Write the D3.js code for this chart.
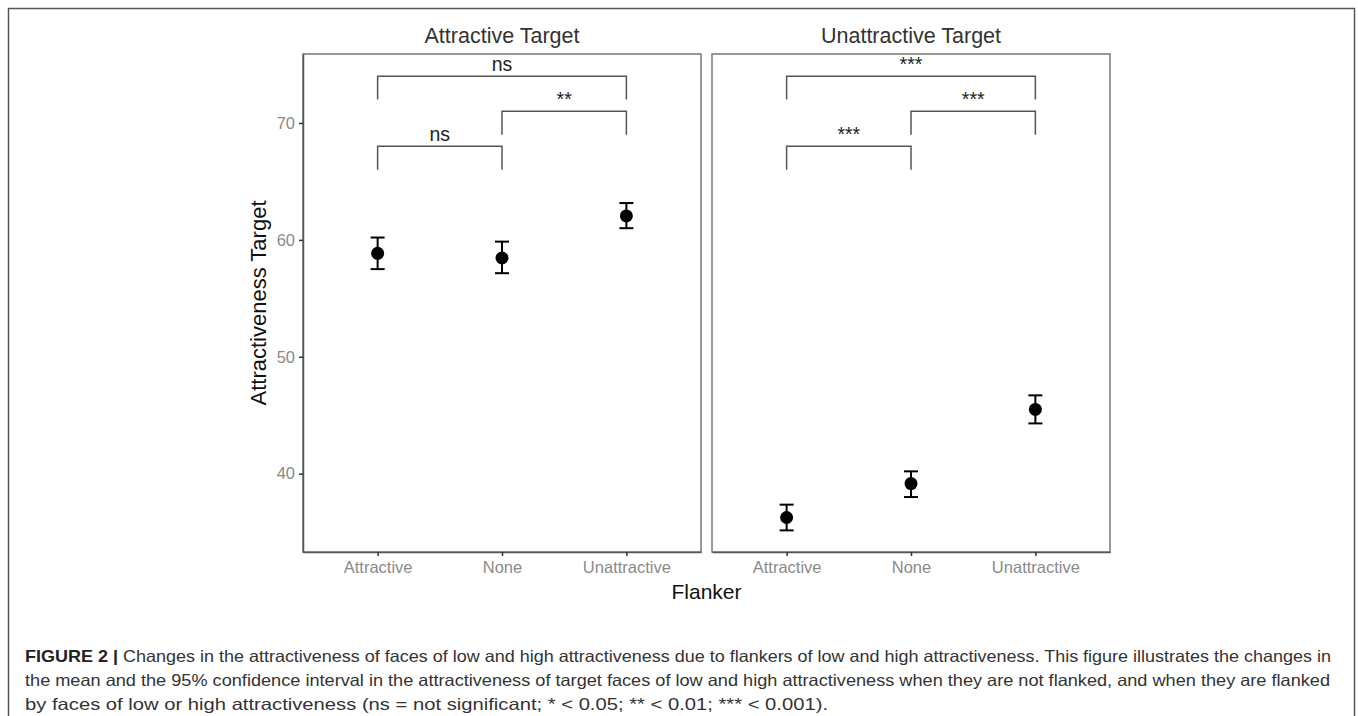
<!DOCTYPE html>
<html>
<head>
<meta charset="utf-8">
<script src="https://cdn.jsdelivr.net/npm/d3@7"></script>
<style>
  body { margin: 0; background: #fff; }
  svg { display: block; font-family: "Liberation Sans", Arial, sans-serif; }
</style>
</head>
<body>
<svg width="1358" height="716"></svg>
<script>
const flankers = ["Attractive", "None", "Unattractive"];
const panels = ["Attractive Target", "Unattractive Target"];

// mean and 95% CI per panel, in flanker order
const means = [
  [58.85, 58.45, 62.05],
  [36.25, 39.15, 45.5],
];
const lower = [
  [57.5, 57.15, 61.0],
  [35.15, 38.0, 44.3],
];
const upper = [
  [60.2, 59.85, 63.15],
  [37.35, 40.2, 46.7],
];

// significance brackets: [from, to, height]
const brackets = [
  ["Attractive", "None", 68],
  ["None", "Unattractive", 71],
  ["Attractive", "Unattractive", 74],
];
const bracketLabels = [
  ["ns", "**", "ns"],
  ["***", "***", "***"],
];

const yTicks = [40, 50, 60, 70];
const yDomain = [33.3, 75.9];

const captionLines = [
  "Changes in the attractiveness of faces of low and high attractiveness due to flankers of low and high attractiveness. This figure illustrates the changes in",
  "the mean and the 95% confidence interval in the attractiveness of target faces of low and high attractiveness when they are not flanked, and when they are flanked",
  "by faces of low or high attractiveness (ns = not significant; * < 0.05; ** < 0.01; *** < 0.001).",
];

const svg = d3.select("svg");

// outer figure frame (open at the bottom)
svg.append("path")
  .attr("d", "M8.5,716 V8.5 H1354.5 V716")
  .attr("fill", "none")
  .attr("stroke", "#555")
  .attr("stroke-width", 1.5);

const panelLeft = [303, 712];
const panelWidth = 398;
const plotTop = 54;
const plotBottom = 552;

const yScale = d3.scaleLinear().domain(yDomain).range([plotBottom, plotTop]);

panels.forEach((title, p) => {
  const x0 = panelLeft[p];
  const xScale = d3.scalePoint()
    .domain(flankers)
    .range([x0, x0 + panelWidth])
    .padding(0.6);

  const g = svg.append("g");

  // panel border
  g.append("rect")
    .attr("x", x0)
    .attr("y", plotTop)
    .attr("width", panelWidth)
    .attr("height", plotBottom - plotTop)
    .attr("fill", "none")
    .attr("stroke", "#777")
    .attr("stroke-width", 1.5);

  // title
  g.append("text")
    .attr("x", x0 + panelWidth / 2)
    .attr("y", 43)
    .attr("text-anchor", "middle")
    .attr("font-size", 21.5)
    .attr("fill", "#333")
    .text(title);

  // x axis
  const xAxis = g.append("g")
    .attr("transform", `translate(0, ${plotBottom})`)
    .call(d3.axisBottom(xScale).tickSize(4).tickSizeOuter(0).tickPadding(5));
  xAxis.select(".domain").attr("stroke", "#555").attr("stroke-width", 1.5);
  xAxis.selectAll(".tick line").attr("stroke", "#333").attr("stroke-width", 1.5);
  xAxis.selectAll(".tick text")
    .attr("font-size", 16.5)
    .attr("fill", "#8a8a8a")
    .attr("font-family", "Liberation Sans, Arial, sans-serif");

  // y axis only on first panel
  if (p === 0) {
    const yAxis = g.append("g")
      .attr("transform", `translate(${x0}, 0)`)
      .call(d3.axisLeft(yScale).tickValues(yTicks).tickSize(4).tickSizeOuter(0).tickPadding(4));
    yAxis.select(".domain").attr("stroke", "#555").attr("stroke-width", 1.5);
    yAxis.selectAll(".tick line").attr("stroke", "#333").attr("stroke-width", 1.5);
    yAxis.selectAll(".tick text")
      .attr("font-size", 16.5)
      .attr("fill", "#8a8a8a")
      .attr("font-family", "Liberation Sans, Arial, sans-serif");
  }

  // error bars
  const rows = flankers.map((f, i) => ({
    f,
    mean: means[p][i],
    lo: lower[p][i],
    hi: upper[p][i],
  }));

  const eb = g.selectAll(".eb").data(rows).join("g").attr("class", "eb");
  eb.append("line")
    .attr("x1", (d) => xScale(d.f))
    .attr("x2", (d) => xScale(d.f))
    .attr("y1", (d) => yScale(d.lo))
    .attr("y2", (d) => yScale(d.hi))
    .attr("stroke", "#000")
    .attr("stroke-width", 2);
  ["lo", "hi"].forEach((k) => {
    eb.append("line")
      .attr("x1", (d) => xScale(d.f) - 7)
      .attr("x2", (d) => xScale(d.f) + 7)
      .attr("y1", (d) => yScale(d[k]))
      .attr("y2", (d) => yScale(d[k]))
      .attr("stroke", "#000")
      .attr("stroke-width", 2);
  });
  eb.append("circle")
    .attr("cx", (d) => xScale(d.f))
    .attr("cy", (d) => yScale(d.mean))
    .attr("r", 6.5)
    .attr("fill", "#000");

  // significance brackets
  brackets.forEach(([a, b, h], i) => {
    const xa = xScale(a);
    const xb = xScale(b);
    const yh = yScale(h);
    const yt = yScale(h - 2);
    g.append("path")
      .attr("d", `M${xa},${yt} V${yh} H${xb} V${yt}`)
      .attr("fill", "none")
      .attr("stroke", "#555")
      .attr("stroke-width", 1.5);
    g.append("text")
      .attr("x", (xa + xb) / 2)
      .attr("y", yh - 5)
      .attr("text-anchor", "middle")
      .attr("font-size", 19.5)
      .attr("fill", "#222")
      .text(bracketLabels[p][i]);
  });
});

// axis titles
svg.append("text")
  .attr("transform", `translate(266, ${(plotTop + plotBottom) / 2}) rotate(-90)`)
  .attr("text-anchor", "middle")
  .attr("font-size", 22)
  .attr("fill", "#111")
  .text("Attractiveness Target");

svg.append("text")
  .attr("x", (panelLeft[0] + panelLeft[1] + panelWidth) / 2)
  .attr("y", 599)
  .attr("text-anchor", "middle")
  .attr("font-size", 21)
  .attr("fill", "#111")
  .text("Flanker");

// caption
const cap = svg.append("g").attr("font-size", 16.5).attr("fill", "#333");
const first = cap.append("text").attr("x", 25).attr("y", 662);
first.append("tspan").attr("font-weight", "bold").attr("fill", "#222").text("FIGURE 2 | ");
first.append("tspan").text(captionLines[0]);
const lineEnds = [1331, 1330, 828];
first.attr("textLength", lineEnds[0] - 25).attr("lengthAdjust", "spacingAndGlyphs");
captionLines.slice(1).forEach((line, i) => {
  cap.append("text")
    .attr("x", 25)
    .attr("y", 686 + i * 24)
    .attr("textLength", lineEnds[i + 1] - 25)
    .attr("lengthAdjust", "spacingAndGlyphs")
    .text(line);
});
</script>
</body>
</html>
